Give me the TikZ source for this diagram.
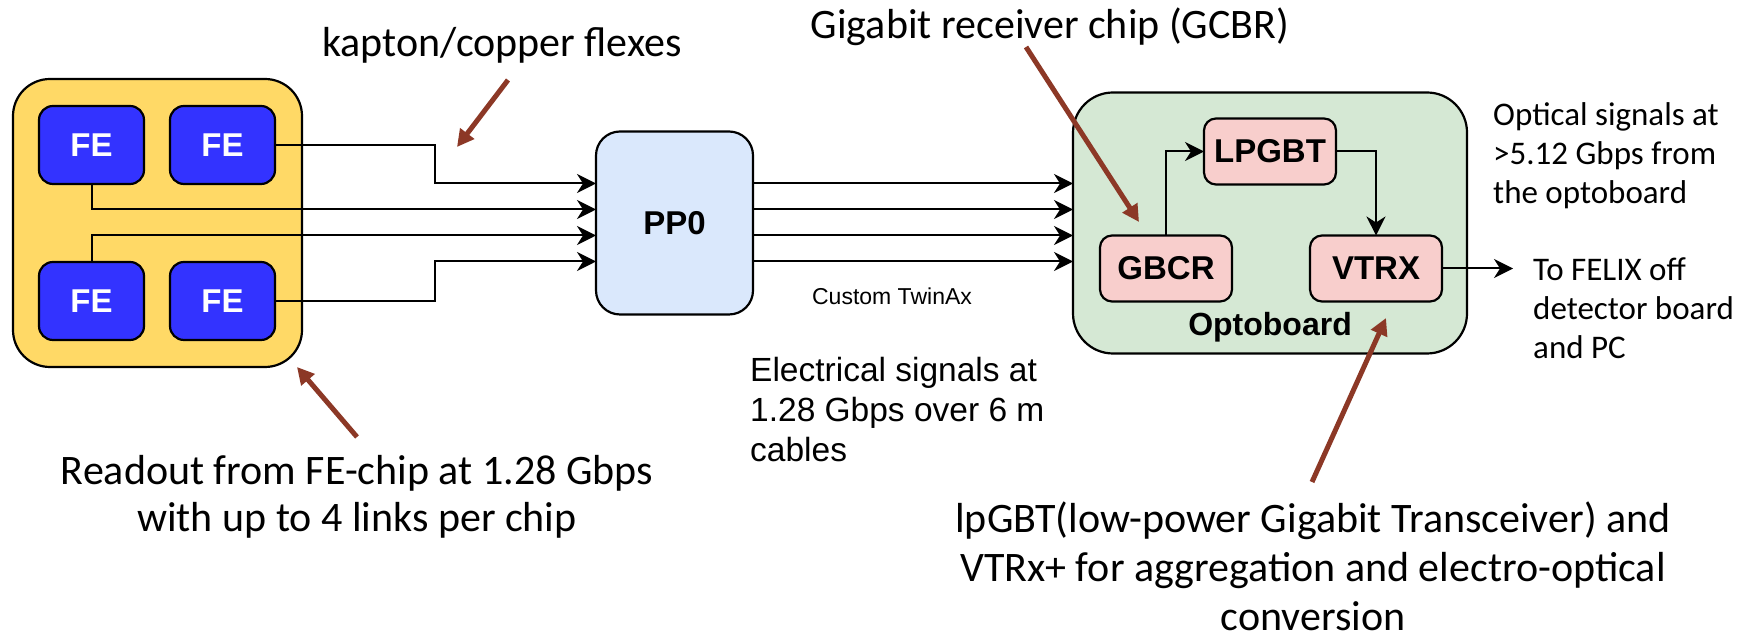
\documentclass[tikz,border=0pt]{standalone}
\usepackage{fontspec}
\setmainfont{Carlito}
\newfontfamily\arialfont{Liberation Sans}
\usepackage{tikz}
\usetikzlibrary{arrows.meta,positioning,calc}
\definecolor{boardyellow}{HTML}{FFD966}
\definecolor{feblue}{HTML}{3333FF}
\definecolor{ppblue}{HTML}{DAE8FC}
\definecolor{optogreen}{HTML}{D5E8D4}
\definecolor{chippink}{HTML}{F8CECC}
\definecolor{pointerbrown}{HTML}{8C3826}
\tikzset{
	board/.style={draw, line width=2.2pt, rounded corners=37pt, inner sep=0pt, outer sep=0pt},
	chip/.style={draw, line width=2.2pt, rounded corners=14pt, align=center, inner sep=0pt,
		outer sep=0pt, font=\arialfont\bfseries\fontsize{33}{38}\selectfont},
	fechip/.style={chip, fill=feblue, text=white, minimum width=105pt, minimum height=78pt},
	pinkchip/.style={chip, fill=chippink, rounded corners=12pt, minimum width=132pt, minimum height=66pt},
	link/.style={-{Stealth[length=19pt,width=19pt,inset=6pt]}, line width=2pt},
	pointer/.style={-{Triangle[length=17pt,width=17pt]}, line width=5pt, pointerbrown},
	bignote/.style={font=\fontsize{42}{48}\selectfont, align=center, inner sep=0pt},
	sidenote/.style={font=\fontsize{33}{39}\selectfont, align=left, inner sep=0pt}
}

\begin{document}
\begin{tikzpicture}[
	x=1pt, y=1pt,
	node distance=26pt and 26pt,
	arialnote/.style={font=\arialfont\fontsize{33.5}{40}\selectfont, align=left, inner sep=0pt},
	]
	\useasboundingbox (0,0) rectangle (1739,639);
	
	%% ── Front-end board with four FE chips ──────────────────────────
	\node[board, fill=boardyellow, minimum width=289pt, minimum height=288pt]
	(board) at (157.5,416) {};
	\node[fechip, below right=27pt and 26pt of board.north west] (feTL) {FE};
	\node[fechip, right=26pt of feTL] (feTR) {FE};
	\node[fechip, below=78pt of feTL] (feBL) {FE};
	\node[fechip, right=26pt of feBL] (feBR) {FE};
	
	%% ── PP0 patch panel ─────────────────────────────────────────────
	\node[chip, fill=ppblue, rounded corners=24pt, minimum width=157pt,
	minimum height=183pt, right=294pt of board] (pp0) {PP0};
	
	%% ── Optoboard ───────────────────────────────────────────────────
	\node[board, fill=optogreen, rounded corners=40pt, minimum width=394pt,
	minimum height=261pt, right=320pt of pp0] (opto) {};
	\node[pinkchip, below=26pt of opto.north] (lpgbt) {LPGBT};
	\node[pinkchip, above right=52pt and 27pt of opto.south west] (gbcr) {GBCR};
	\node[pinkchip, right=78pt of gbcr] (vtrx) {VTRX};
	\node[font=\arialfont\bfseries\fontsize{32}{36}\selectfont, inner sep=0pt]
	(optolabel) at ($(opto.south)+(0,26)$) {Optoboard};
	
	%% ── Flex links: FE chips to PP0 ─────────────────────────────────
	\coordinate (in1) at ($(pp0.west)+(0,39.5)$);
	\coordinate (in2) at ($(pp0.west)+(0,13.5)$);
	\coordinate (in3) at ($(pp0.west)+(0,-12.5)$);
	\coordinate (in4) at ($(pp0.west)+(0,-38.5)$);
	\coordinate (bendTop) at ($(board.east |- in1)+(133,0)$);
	\coordinate (bendBot) at ($(board.east |- in4)+(133,0)$);
	
	\draw[link] (feTR.east) -| (bendTop) -- (in1);
	\draw[link] (feTL.south) |- (in2);
	\draw[link] (feBL.north) |- (in3);
	\draw[link] (feBR.east) -| (bendBot) -- (in4);
	
	%% ── TwinAx cables: PP0 to optoboard ─────────────────────────────
	\draw[link] (in1 -| pp0.east) -- (in1 -| opto.west);
	\draw[link] (in2 -| pp0.east) -- (in2 -| opto.west);
	\draw[link] (in3 -| pp0.east) -- (in3 -| opto.west);
	\draw[link] (in4 -| pp0.east) -- (in4 -| opto.west);
	
	\node[font=\arialfont\fontsize{23}{28}\selectfont, inner sep=0pt]
	(twinax) at ($(pp0.south east)+(139,18)$) {Custom TwinAx};
	
	%% ── Inside the optoboard ────────────────────────────────────────
	\draw[link] (gbcr.north) |- (lpgbt.west);
	\draw[link] (lpgbt.east) -| (vtrx.north);
	\coordinate (felix) at ($(vtrx.east)+(71,0)$);
	\draw[link] (vtrx.east) -- (felix);
	
	\node[sidenote, anchor=west] (felixnote) at ($(felix)+(20,-40)$)
	{To FELIX off\\detector board\\and PC};
	\node[sidenote, anchor=west] (opticnote) at ($(opto.north east)+(26,-63.5)$)
	{Optical signals at\\>5.12 Gbps from\\the optoboard};
	
	\node[arialnote, anchor=west] (elecnote) at (750,229)
	{Electrical signals at\\1.28 Gbps over 6 m\\cables};
	
	%% ── Annotations with pointers ───────────────────────────────────
	\node[bignote] (flexnote) at (502,594) {kapton/copper flexes};
	\node[bignote] (gbcrnote) at (1050,612) {Gigabit receiver chip (GCBR)};
	\node[bignote, font=\fontsize{42}{47}\selectfont] (readnote) at (357,142.5)
	{Readout from FE-chip at 1.28 Gbps\\with up to 4 links per chip};
	\node[bignote, font=\fontsize{42}{49}\selectfont] (lpnote) at (1313,73)
	{lpGBT(low-power Gigabit Transceiver) and\\VTRx+ for aggregation and electro-optical\\conversion};
	
	\coordinate (flexTail) at (508,559);
	\coordinate (flexTip) at (457,492);
	\coordinate (gbcrTail) at (1026,592);
	\coordinate (gbcrTip) at (1139,417);
	\coordinate (readTail) at (357,202);
	\coordinate (readTip) at (297,272);
	\coordinate (lpTail) at (1312,157);
	\coordinate (lpTip) at (1386,321);
	
	\draw[pointer] (flexTail) -- (flexTip);
	\draw[pointer] (gbcrTail) -- (gbcrTip);
	\draw[pointer] (readTail) -- (readTip);
	\draw[pointer] (lpTail) -- (lpTip);
	
\end{tikzpicture}
\end{document}
